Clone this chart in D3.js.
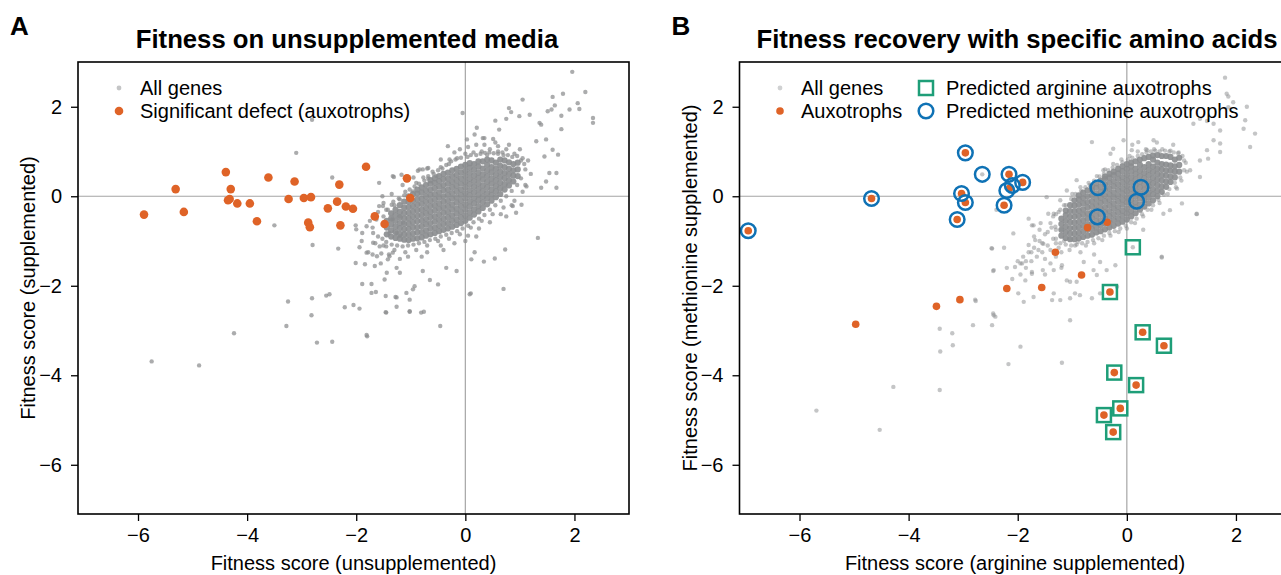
<!doctype html>
<html lang="en">
<head>
<meta charset="utf-8">
<script src="https://d3js.org/d3.v7.min.js"></script>
<title>Fitness scores</title>
<style>
  body { margin: 0; background: #fff; }
  svg { font-family: "Liberation Sans", Arial, sans-serif; display: block; }
  .tick text { font-size: 20px; fill: #000; }
  .tick line { stroke: #000; stroke-width: 1.3; }
</style>
</head>
<body>
<svg width="1281" height="575"></svg>
<script>
// axis ticks and labels
const ticks = [-6, -4, -2, 0, 2];
const panelLabels = ["A", "B"];
const panelTitles = ["Fitness on unsupplemented media", "Fitness recovery with specific amino acids"];
const xTitles = ["Fitness score (unsupplemented)", "Fitness score (arginine supplemented)"];
const yTitles = ["Fitness score (supplemented)", "Fitness score (methionine supplemented)"];

// panel A: dense centre of the gene cloud, one x column with its y values
const coreA = [
  [-1.44, [-0.85, -0.7, -0.55]],
  [-1.36, [-0.9, -0.76, -0.63, -0.5, -0.38]],
  [-1.28, [-0.93, -0.8, -0.68, -0.55, -0.42, -0.3]],
  [-1.20, [-0.95, -0.84, -0.71, -0.6, -0.47, -0.35, -0.2]],
  [-1.12, [-0.97, -0.85, -0.74, -0.62, -0.5, -0.38, -0.26, -0.12]],
  [-1.04, [-0.98, -0.86, -0.73, -0.61, -0.49, -0.37, -0.24, -0.12, 0.0]],
  [-0.96, [-0.95, -0.83, -0.7, -0.58, -0.46, -0.34, -0.22, -0.1, 0.05]],
  [-0.88, [-0.94, -0.81, -0.69, -0.56, -0.44, -0.31, -0.19, -0.07, 0.06, 0.15]],
  [-0.80, [-0.92, -0.8, -0.67, -0.55, -0.42, -0.3, -0.17, -0.05, 0.08, 0.2]],
  [-0.72, [-0.88, -0.76, -0.63, -0.51, -0.38, -0.26, -0.13, -0.01, 0.12, 0.25]],
  [-0.64, [-0.85, -0.72, -0.6, -0.47, -0.35, -0.22, -0.1, 0.03, 0.15, 0.28, 0.36]],
  [-0.56, [-0.82, -0.7, -0.57, -0.45, -0.32, -0.2, -0.07, 0.05, 0.18, 0.3, 0.4]],
  [-0.48, [-0.78, -0.66, -0.53, -0.41, -0.28, -0.16, -0.03, 0.09, 0.22, 0.34, 0.45]],
  [-0.40, [-0.75, -0.62, -0.5, -0.37, -0.25, -0.12, 0.0, 0.13, 0.25, 0.38, 0.5]],
  [-0.32, [-0.72, -0.6, -0.47, -0.35, -0.22, -0.1, 0.03, 0.15, 0.28, 0.4, 0.53]],
  [-0.24, [-0.68, -0.55, -0.43, -0.3, -0.18, -0.05, 0.07, 0.2, 0.32, 0.45, 0.58]],
  [-0.16, [-0.64, -0.52, -0.39, -0.27, -0.14, -0.02, 0.11, 0.23, 0.36, 0.48, 0.61]],
  [-0.08, [-0.6, -0.47, -0.35, -0.22, -0.1, 0.03, 0.15, 0.28, 0.4, 0.53, 0.66]],
  [0.00, [-0.55, -0.43, -0.3, -0.18, -0.05, 0.07, 0.2, 0.32, 0.45, 0.57, 0.7]],
  [0.08, [-0.48, -0.36, -0.23, -0.11, 0.02, 0.14, 0.27, 0.39, 0.52, 0.64, 0.74]],
  [0.16, [-0.41, -0.29, -0.16, -0.04, 0.09, 0.21, 0.34, 0.46, 0.59, 0.72]],
  [0.24, [-0.34, -0.22, -0.09, 0.03, 0.16, 0.28, 0.41, 0.53, 0.66, 0.78]],
  [0.32, [-0.26, -0.13, -0.01, 0.12, 0.24, 0.37, 0.49, 0.62, 0.78]],
  [0.40, [-0.18, -0.05, 0.07, 0.2, 0.32, 0.45, 0.57, 0.7, 0.82]],
  [0.48, [-0.1, 0.03, 0.15, 0.28, 0.4, 0.53, 0.65, 0.8]],
  [0.56, [-0.02, 0.11, 0.23, 0.36, 0.48, 0.61, 0.75]],
  [0.64, [0.05, 0.18, 0.3, 0.43, 0.55, 0.68, 0.82]],
  [0.72, [0.15, 0.27, 0.4, 0.52, 0.65, 0.8]],
  [0.80, [0.24, 0.36, 0.49, 0.61, 0.76]],
  [0.88, [0.33, 0.46, 0.58, 0.72]],
  [0.96, [0.45, 0.6, 0.75]]
];

// panel A: the rest of the genes
const genesA = [
  [-1.5, -0.45], [-1.42, -0.3], [-1.32, -0.12], [-1.22, -0.05], [-1.12, 0.02], [-1.02, 0.15], [-0.93, 0.22],
  [-0.85, 0.28], [-0.77, 0.42], [-0.68, 0.4], [-0.58, 0.5], [-0.5, 0.58], [-0.42, 0.62], [-0.35, 0.7],
  [-0.26, 0.78], [-0.18, 0.82], [-0.08, 0.86], [0.04, 0.88], [0.1, 0.92], [0.2, 0.92], [0.28, 0.95], [0.36, 0.97],
  [0.44, 0.98], [0.52, 0.96], [0.6, 0.95], [0.68, 0.98], [0.78, 0.92], [0.86, 0.88], [0.95, 0.9], [1.02, 0.8], [1.08, 0.72],
  [-1.52, -0.95], [-1.45, -1.02], [-1.35, -1.08], [-1.25, -1.1], [-1.15, -1.12], [-1.05, -1.1], [-0.95, -1.08],
  [-0.85, -1.05], [-0.75, -1.02], [-0.65, -0.98], [-0.55, -0.95], [-0.45, -0.9], [-0.35, -0.86], [-0.25, -0.82],
  [-0.15, -0.78], [-0.05, -0.72], [0.05, -0.66], [0.15, -0.58], [0.25, -0.5], [0.35, -0.42], [0.45, -0.3],
  [0.55, -0.2], [0.65, -0.1], [0.75, 0.0], [0.85, 0.12], [0.95, 0.25], [1.02, 0.4],
  [-1.6, -0.35], [-1.7, -0.7], [-1.65, -1.05], [-1.4, -1.3], [-1.05, -1.35], [-0.7, -1.25], [-0.45, -1.1],
  [-0.2, -1.05], [0.05, -0.88], [0.25, -0.72], [0.45, -0.58], [0.65, -0.4], [0.85, -0.2], [1.1, 0.25], [1.2, 0.5],
  [1.15, 0.8], [1.0, 1.05], [0.8, 1.15], [0.6, 1.12], [0.35, 1.15], [0.05, 1.1], [-0.2, 0.98], [-0.45, 0.82],
  [-0.7, 0.62], [-0.95, 0.42], [-1.15, 0.25], [-1.35, 0.05], [-1.5, -0.15],
  [-1.3, -0.2], [-1.1, 0.1], [-0.9, 0.3], [-0.75, 0.35], [-0.6, 0.55], [-0.45, 0.65], [-0.3, 0.72], [-0.15, 0.85],
  [0.0, 0.95], [0.15, 0.98], [0.3, 1.0], [0.45, 1.05], [0.6, 1.0], [0.75, 1.05], [0.9, 0.95], [1.05, 0.85], [1.1, 0.6],
  [0.2, 1.15], [-0.1, 1.05], [0.55, 1.2], [0.4, 0.92], [0.7, 0.92],
  [-1.5, -1.1], [-1.3, -1.2], [-1.1, -1.25], [-0.9, -1.2], [-0.7, -1.1], [-0.5, -1.0], [-0.3, -0.95], [-0.1, -0.85],
  [0.1, -0.7], [0.3, -0.55], [0.5, -0.4], [0.7, -0.25], [0.9, -0.1], [1.05, 0.1], [-1.6, -0.9], [-1.7, -1.3],
  [-1.55, -1.5], [-1.2, -1.4], [-0.8, -1.35], [-0.4, -1.2], [0.0, -1.0], [0.2, -0.9], [-1.75, -0.55], [-1.45, -0.3], [-1.9, -1.0],
  [-2.81, 1.71], [-0.05, 1.86], [-2.44, 0.42], [-1.58, 0.3], [-1.31, 0.43], [-0.87, 0.57], [-0.78, 0.6], [-0.68, 0.45],
  [-2.8, -1.09], [-2.33, -1.17], [-1.94, -1.14], [-1.78, -1.25], [-2.01, -1.49], [-1.84, -1.52], [-1.66, -1.56],
  [-1.62, -1.34], [-1.54, -1.28], [-1.42, -1.41], [-1.26, -1.6], [-1.2, -1.71], [-1.44, -1.71], [-1.48, -1.86],
  [-1.89, -1.96], [-1.72, -1.96], [-1.64, -2.14], [-1.46, -2.23], [-1.26, -2.26], [-1.08, -2.16], [-0.93, -2.01],
  [-2.81, -2.28], [-2.55, -2.22], [-2.49, -2.19], [-2.21, -2.48], [-2.05, -2.43], [-1.94, -2.51], [-1.46, -2.59],
  [-1.26, -2.47], [-1.02, -2.58], [-0.76, -2.58], [-2.82, -2.66], [-1.8, -3.13], [-2.44, -3.25], [-0.46, -2.9],
  [0.1, -2.17], [0.7, -2.07], [1.33, -0.93], [0.84, 1.88], [1.18, 1.82], [1.36, 1.64], [0.17, 1.38], [0.32, 1.3],
  [0.62, 1.49], [0.75, 1.73],
  [1.96, 2.78], [2.2, 2.33], [1.79, 2.29], [1.05, 2.16], [0.8, 1.97], [1.6, 2.22], [1.64, 2.03], [1.58, 1.94],
  [1.51, 1.9], [1.76, 1.8], [1.91, 1.94], [2.06, 2.08], [2.09, 1.95], [2.34, 1.75], [2.34, 1.64], [1.76, 1.5],
  [1.39, 1.6], [0.99, 1.79], [0.55, 1.69], [0.21, 1.53], [0.03, 1.27], [0.35, 1.3], [0.51, 1.28], [1.3, 1.23],
  [1.48, 1.27], [1.6, 1.04], [1.7, 0.93], [1.45, 0.89], [1.54, 0.52], [1.67, 0.52], [1.67, 0.19], [1.39, 0.19],
  [1.12, 0.22], [1.48, 0.33], [1.03, -0.19], [0.87, -0.22], [0.75, -0.45], [0.93, -0.37], [0.73, -1.19],
  [0.54, -1.39], [0.34, -1.46], [0.17, -1.25], [0.11, -1.41], [-0.16, -1.67], [-0.35, -1.6], [-0.5, -1.97],
  [-0.65, -1.87], [-0.78, -1.67], [-0.96, -2.08], [-1.02, -2.31], [-1.28, -2.25], [-1.45, -2.6], [-1.02, -2.57],
  [-0.81, -2.6], [-1.81, -3.1], [-1.72, -2.16], [0.08, -2.19], [-1.33, 0.45], [-0.84, 0.6], [-0.68, 0.63],
  [-0.53, 0.45], [-0.29, 0.82], [-0.32, 1.12], [-0.96, 0.11], [-1.2, -0.07], [-1.51, -0.22], [-1.36, -0.52],
  [-1.63, -0.52], [-1.69, -0.82], [-1.26, -0.82], [-1.57, -1.12], [-1.39, -1.34],
  [-5.75, -3.69], [-4.88, -3.78], [-4.24, -3.06], [-3.1, 0.97], [-3.5, -0.65], [-2.01, -0.65], [-2.0, -0.74],
  [-1.17, 0.48], [-1.52, 0.0], [-1.58, -0.22], [-1.35, -0.19], [-1.2, -0.45], [-1.33, -0.52], [-1.48, -0.59],
  [-1.39, -0.82], [-1.2, -0.89], [-1.14, -0.59], [-1.69, -1.04], [-1.81, -0.67], [-1.89, -0.82], [-1.45, -1.12],
  [-1.33, -1.26], [-1.81, -1.26], [-3.28, -2.9], [-2.72, -3.27], [-3.25, -2.35]
];

// panel A: significant defect (auxotrophs)
const auxA = [
  [-5.89, -0.41], [-5.31, 0.16], [-5.16, -0.35], [-4.39, 0.54], [-4.3, 0.16], [-4.35, -0.09], [-4.32, -0.06],
  [-4.18, -0.16], [-3.95, -0.16], [-3.82, -0.56], [-3.61, 0.42], [-3.24, -0.06], [-3.13, 0.33], [-2.96, -0.04],
  [-2.83, -0.02], [-2.88, -0.59], [-2.85, -0.69], [-2.52, -0.27], [-2.35, -0.12], [-2.31, 0.26], [-2.29, -0.65],
  [-2.19, -0.23], [-2.06, -0.28], [-1.82, 0.66], [-1.66, -0.45], [-1.48, -0.62], [-1.07, 0.4], [-1.01, -0.04]
];

// panel B: dense centre of the gene cloud
const coreB = [
  [-1.20, [-0.88, -0.75, -0.62, -0.5]],
  [-1.12, [-0.93, -0.8, -0.68, -0.55, -0.42, -0.32]],
  [-1.04, [-0.96, -0.83, -0.71, -0.58, -0.46, -0.33, -0.2]],
  [-0.96, [-0.96, -0.84, -0.71, -0.59, -0.46, -0.34, -0.21, -0.09]],
  [-0.88, [-0.94, -0.82, -0.69, -0.57, -0.44, -0.32, -0.19, -0.07, 0.02]],
  [-0.80, [-0.91, -0.79, -0.66, -0.54, -0.41, -0.29, -0.16, -0.04, 0.08]],
  [-0.72, [-0.88, -0.75, -0.63, -0.5, -0.38, -0.25, -0.13, 0.0, 0.13]],
  [-0.64, [-0.86, -0.73, -0.61, -0.48, -0.36, -0.23, -0.11, 0.02, 0.14, 0.22]],
  [-0.56, [-0.81, -0.69, -0.56, -0.44, -0.31, -0.19, -0.06, 0.06, 0.19, 0.29]],
  [-0.48, [-0.78, -0.65, -0.53, -0.4, -0.28, -0.15, -0.03, 0.1, 0.22, 0.35]],
  [-0.40, [-0.74, -0.61, -0.49, -0.36, -0.24, -0.11, 0.01, 0.14, 0.26, 0.39, 0.44]],
  [-0.32, [-0.7, -0.58, -0.45, -0.33, -0.2, -0.08, 0.05, 0.17, 0.3, 0.42, 0.5]],
  [-0.24, [-0.66, -0.53, -0.41, -0.28, -0.16, -0.03, 0.09, 0.22, 0.34, 0.47, 0.55]],
  [-0.16, [-0.61, -0.49, -0.36, -0.24, -0.11, 0.01, 0.14, 0.26, 0.39, 0.51, 0.61]],
  [-0.08, [-0.57, -0.44, -0.32, -0.19, -0.07, 0.06, 0.18, 0.31, 0.43, 0.56, 0.67]],
  [0.00, [-0.52, -0.39, -0.27, -0.14, -0.02, 0.11, 0.23, 0.36, 0.48, 0.61, 0.72]],
  [0.08, [-0.45, -0.33, -0.2, -0.08, 0.05, 0.17, 0.3, 0.42, 0.55, 0.67, 0.75]],
  [0.16, [-0.38, -0.25, -0.13, 0.0, 0.12, 0.25, 0.37, 0.5, 0.62, 0.78]],
  [0.24, [-0.3, -0.18, -0.05, 0.07, 0.2, 0.32, 0.45, 0.57, 0.7, 0.82]],
  [0.32, [-0.23, -0.1, 0.02, 0.15, 0.27, 0.4, 0.52, 0.65, 0.85]],
  [0.40, [-0.16, -0.03, 0.09, 0.22, 0.34, 0.47, 0.59, 0.72, 0.88]],
  [0.48, [-0.09, 0.04, 0.16, 0.29, 0.41, 0.54, 0.66, 0.82, 0.91]],
  [0.56, [0.0, 0.12, 0.25, 0.37, 0.5, 0.62, 0.75, 0.92]],
  [0.64, [0.1, 0.22, 0.35, 0.47, 0.6, 0.72, 0.9]],
  [0.72, [0.21, 0.33, 0.46, 0.58, 0.71, 0.9]],
  [0.80, [0.32, 0.44, 0.57, 0.69, 0.88]],
  [0.88, [0.42, 0.55, 0.67, 0.82]],
  [0.96, [0.55, 0.7, 0.86]]
];

// panel B: the rest of the genes
const genesB = [
  [-1.3, -0.4], [-1.22, -0.3], [-1.12, -0.2], [-1.02, -0.06], [-0.94, 0.05], [-0.84, 0.12], [-0.76, 0.2],
  [-0.68, 0.25], [-0.6, 0.35], [-0.5, 0.44], [-0.42, 0.5], [-0.34, 0.58], [-0.26, 0.64], [-0.18, 0.7],
  [-0.08, 0.76], [0.02, 0.82], [0.1, 0.86], [0.2, 0.9], [0.28, 0.94], [0.36, 0.98], [0.44, 1.0], [0.52, 1.02],
  [0.6, 1.0], [0.7, 1.02], [0.78, 1.0], [0.86, 0.98], [0.94, 0.96], [1.02, 0.9], [1.08, 0.75],
  [-1.3, -0.95], [-1.22, -1.05], [-1.12, -1.08], [-1.02, -1.1], [-0.92, -1.08], [-0.82, -1.05], [-0.72, -1.02],
  [-0.62, -0.98], [-0.52, -0.94], [-0.42, -0.88], [-0.32, -0.82], [-0.22, -0.78], [-0.12, -0.72], [-0.02, -0.66],
  [0.08, -0.58], [0.18, -0.5], [0.28, -0.4], [0.38, -0.3], [0.48, -0.2], [0.58, -0.08], [0.68, 0.04], [0.78, 0.16],
  [0.88, 0.3], [0.98, 0.42], [1.05, 0.58],
  [-1.45, -0.8], [-1.55, -1.05], [-1.62, -1.2], [-1.4, -1.2], [-1.5, -1.4], [-1.3, -1.05], [-1.2, -1.25],
  [-1.38, -0.7], [-1.75, -1.25], [-1.85, -1.45], [-1.58, -0.6],
  [-1.3, -0.75], [-1.35, -0.95], [-1.4, -0.6], [-1.45, -1.1], [-1.5, -0.85], [-1.55, -1.25], [-1.6, -1.0],
  [-1.65, -1.35], [-1.7, -1.15], [-1.75, -1.45], [-1.8, -1.25], [-1.85, -1.6], [-1.9, -1.35], [-1.95, -1.75],
  [-2.0, -1.45], [-2.1, -1.85], [-2.2, -1.6], [-1.25, -1.15], [-1.3, -1.35], [-1.4, -1.5], [-1.15, -1.0],
  [-1.05, -1.2], [-0.95, -1.1], [-0.85, -1.25], [-1.2, -1.6], [-1.5, -1.75], [-1.6, -0.75], [-1.7, -0.9],
  [-1.35, -0.45], [-1.25, -0.35], [-1.15, -0.2], [-1.0, 0.05], [-0.85, 0.2], [-0.7, 0.3], [-0.55, 0.45],
  [-0.4, 0.6], [-0.25, 0.72], [-0.1, 0.82], [0.05, 0.9], [0.2, 1.0], [0.35, 1.05], [0.5, 1.05], [0.65, 1.05],
  [0.8, 1.02], [0.95, 0.98], [1.05, 0.8], [1.1, 0.55], [0.9, 0.2], [0.75, 0.05], [0.6, -0.15], [0.45, -0.3],
  [0.3, -0.45], [0.15, -0.6], [0.0, -0.72], [-0.15, -0.8], [-0.3, -0.88], [-0.45, -0.98], [-0.6, -1.05],
  [-0.75, -1.1], [-0.9, -1.02], [-1.05, -0.95], [0.1, 1.15], [0.55, 1.2], [0.85, 1.15], [-0.3, 0.95], [1.0, 0.35],
  [0.3, -0.75], [-0.6, -1.3],
  [1.8, 2.65], [1.83, 2.29], [1.86, 2.23], [1.95, 2.1], [1.86, 1.99], [2.17, 1.7], [2.14, 1.51], [2.35, 1.4],
  [2.26, 1.1], [1.34, 1.73], [1.47, 1.68], [1.22, 1.62], [1.59, 1.62], [1.71, 1.47], [1.59, 1.25], [1.71, 1.18],
  [1.47, 1.03], [1.49, 0.84], [1.71, 0.99], [1.34, 0.8], [1.16, 0.58], [1.34, 0.43], [1.28, -0.39], [0.92, 0.17],
  [1.01, -0.16], [0.67, -0.39], [0.79, -0.31], [0.64, -1.35], [-0.06, 1.25], [0.09, 1.03], [0.21, 1.21],
  [0.49, 1.25], [0.37, 1.03], [-0.25, 1.06], [-0.43, 0.58], [-0.64, 1.21], [-0.92, 0.36], [-1.1, 0.13],
  [-1.22, -0.09], [-1.47, -0.02], [-1.34, -0.39], [-1.74, -0.65], [-1.68, -0.98], [-1.53, -1.06], [-1.8, -1.09],
  [-2.08, -0.83], [-2.47, -1.17], [-2.44, -1.65], [-1.95, -1.5], [-1.74, -1.73], [-1.99, -2.17], [-2.78, -2.31],
  [-1.34, -2.17], [-1.22, -2.32], [-1.04, -1.91], [-0.61, -1.65], [-0.21, -1.54], [-0.18, -2.02], [-0.49, -2.17],
  [-0.64, -2.28], [-0.86, -2.21], [-2.25, -1.15], [-1.8, -0.5], [-1.71, -0.65], [-1.44, -0.39], [-1.31, -0.68],
  [-1.2, -0.74], [-2.05, -1.58], [-1.92, -1.5], [-1.86, -1.88], [-1.74, -1.69], [-1.54, -1.65], [-1.19, -1.54],
  [-1.34, -1.65], [-1.1, -1.88], [-0.92, -1.91], [-0.79, -1.47], [-0.55, -1.76], [-0.37, -1.65], [-0.49, -1.47],
  [-1.89, -2.36], [-1.71, -2.25], [-2.44, -2.66], [-2.47, -2.88], [-1.37, -2.32], [-1.04, -2.28], [-0.95, -2.17],
  [-1.04, -2.77], [-1.95, -3.36], [-2.17, -3.75], [-1.19, -3.72], [0.64, -1.37], [1.28, -0.4],
  [-2.48, -1.16], [-2.45, -1.67], [-2.77, -2.34], [-2.45, -2.62], [-2.41, -2.69], [-2.82, -2.88], [-3.43, -2.96],
  [-3.2, -3.06], [-3.19, -3.33], [-3.42, -3.47], [-4.28, -4.26], [-3.43, -4.33], [-5.69, -4.79], [-4.53, -5.22],
  [-2.39, -0.3], [-2.65, 0.49], [0.11, -1.14], [2.2, 2.0]
];

// panel B: auxotrophs
const auxB = [
  [-6.94, -0.77], [-4.68, -0.05], [-2.96, 0.97], [-3.03, 0.06], [-2.96, -0.14], [-3.11, -0.52], [-2.16, 0.49],
  [-1.91, 0.31], [-2.15, 0.18], [-2.25, -0.2],
  [-0.31, -2.14], [0.29, -3.04], [0.68, -3.34], [-0.23, -3.94], [0.17, -4.22], [-0.12, -4.74], [-0.42, -4.89], [-0.25, -5.27],
  [-0.72, -0.7], [-0.36, -0.58], [-1.31, -1.25], [-0.83, -1.76], [-1.56, -2.04], [-2.2, -2.06], [-3.06, -2.31],
  [-4.97, -2.86], [-3.49, -2.46]
];

// panel B: predicted arginine auxotrophs
const argB = [
  [0.11, -1.14], [-0.31, -2.14], [0.29, -3.04], [0.68, -3.34], [-0.23, -3.94], [0.17, -4.22], [-0.12, -4.74],
  [-0.42, -4.89], [-0.25, -5.27]
];

// panel B: predicted methionine auxotrophs
const metB = [
  [-6.94, -0.77], [-4.68, -0.05], [-2.96, 0.97], [-2.65, 0.49], [-3.03, 0.06], [-2.96, -0.14], [-3.11, -0.52],
  [-2.16, 0.49], [-1.91, 0.31], [-2.2, 0.13], [-2.1, 0.24], [-2.25, -0.2], [-0.53, 0.19], [-0.54, -0.46],
  [0.26, 0.2], [0.18, -0.11]
];

const grey = "#8a8c8e", orange = "#df6327", green = "#1e9e78", blue = "#0f72b5";

const svg = d3.select("svg");
const y = d3.scaleLinear().domain([-7.1, 3]).range([514, 62]);

function unpack(core) {
  return core.flatMap(c => c[1].map(v => [c[0], v]));
}

function panel(i, x0, x1, titleX, data) {
  const x = d3.scaleLinear().domain([-7.1, 3]).range([x0, x1]);
  const g = svg.append("g");
  g.append("clipPath").attr("id", "clip" + i)
    .append("rect").attr("x", x0).attr("y", 62).attr("width", x1 - x0).attr("height", 452);
  const plot = g.append("g").attr("clip-path", "url(#clip" + i + ")");

  plot.append("line").attr("x1", x0).attr("x2", x1).attr("y1", y(0)).attr("y2", y(0))
    .attr("stroke", "#a5a5a5").attr("stroke-width", 1.2);
  plot.append("line").attr("x1", x(0)).attr("x2", x(0)).attr("y1", 62).attr("y2", 514)
    .attr("stroke", "#a5a5a5").attr("stroke-width", 1.2);

  plot.selectAll(".gene").data(data.genes).enter().append("circle")
    .attr("cx", d => x(d[0])).attr("cy", d => y(d[1])).attr("r", 2.2)
    .attr("fill", grey).attr("fill-opacity", data.geneOpacity);
  plot.selectAll(".core").data(unpack(data.core)).enter().append("circle")
    .attr("cx", d => x(d[0])).attr("cy", d => y(d[1])).attr("r", 3.1)
    .attr("fill", grey).attr("fill-opacity", 0.9);
  plot.selectAll(".aux").data(data.aux).enter().append("circle")
    .attr("cx", d => x(d[0])).attr("cy", d => y(d[1])).attr("r", data.auxR)
    .attr("fill", orange);
  if (data.arg) {
    plot.selectAll(".arg").data(data.arg).enter().append("rect")
      .attr("x", d => x(d[0]) - 7).attr("y", d => y(d[1]) - 7)
      .attr("width", 14).attr("height", 14)
      .attr("fill", "none").attr("stroke", green).attr("stroke-width", 2.5);
    plot.selectAll(".met").data(data.met).enter().append("circle")
      .attr("cx", d => x(d[0])).attr("cy", d => y(d[1])).attr("r", 7.3)
      .attr("fill", "none").attr("stroke", blue).attr("stroke-width", 2.5);
  }

  const ax = g.append("g").attr("transform", "translate(0,514)")
    .call(d3.axisBottom(x).tickValues(ticks).tickSize(7).tickSizeOuter(0).tickPadding(7));
  const ay = g.append("g").attr("transform", "translate(" + x0 + ",0)")
    .call(d3.axisLeft(y).tickValues(ticks).tickSize(7).tickSizeOuter(0).tickPadding(9));
  ax.select(".domain").remove();
  ay.select(".domain").remove();
  g.selectAll(".tick text").attr("font-family", null).attr("font-size", null);

  g.append("rect").attr("x", x0).attr("y", 62).attr("width", x1 - x0).attr("height", 452)
    .attr("fill", "none").attr("stroke", "#000").attr("stroke-width", 1.6);

  g.append("text").attr("x", (x0 + x1) / 2).attr("y", 570).attr("text-anchor", "middle")
    .attr("font-size", 20).text(xTitles[i]);
  g.append("text").attr("transform", "translate(" + (x0 - 43) + ",288) rotate(-90)")
    .attr("text-anchor", "middle").attr("font-size", 20).text(yTitles[i]);
  g.append("text").attr("x", titleX).attr("y", 48).attr("text-anchor", "middle")
    .attr("font-size", 25.7).attr("font-weight", "bold").text(panelTitles[i]);
  g.append("text").attr("x", x0 - 68).attr("y", 35)
    .attr("font-size", 26).attr("font-weight", "bold").text(panelLabels[i]);
}

panel(0, 78, 629, 347, {core: coreA, genes: genesA, aux: auxA, auxR: 4.3, geneOpacity: 0.72});
panel(1, 739.5, 1290.5, 1017, {core: coreB, genes: genesB, aux: auxB, arg: argB, met: metB, auxR: 3.8, geneOpacity: 0.5});

// legends
function legendText(x, yy, s) {
  svg.append("text").attr("x", x).attr("y", yy + 7).attr("font-size", 20).text(s);
}
svg.append("circle").attr("cx", 119).attr("cy", 88).attr("r", 2.4).attr("fill", grey).attr("fill-opacity", 0.5);
legendText(140, 88, "All genes");
svg.append("circle").attr("cx", 119).attr("cy", 111).attr("r", 4.3).attr("fill", orange);
legendText(140, 111, "Significant defect (auxotrophs)");

svg.append("circle").attr("cx", 780).attr("cy", 88).attr("r", 2.4).attr("fill", grey).attr("fill-opacity", 0.4);
legendText(801, 88, "All genes");
svg.append("circle").attr("cx", 780).attr("cy", 111).attr("r", 3.8).attr("fill", orange);
legendText(801, 111, "Auxotrophs");
svg.append("rect").attr("x", 919).attr("y", 81).attr("width", 14).attr("height", 14)
  .attr("fill", "none").attr("stroke", green).attr("stroke-width", 2.5);
legendText(946, 88, "Predicted arginine auxotrophs");
svg.append("circle").attr("cx", 926).attr("cy", 111).attr("r", 7.3)
  .attr("fill", "none").attr("stroke", blue).attr("stroke-width", 2.5);
legendText(946, 111, "Predicted methionine auxotrophs");
</script>
</body>
</html>
